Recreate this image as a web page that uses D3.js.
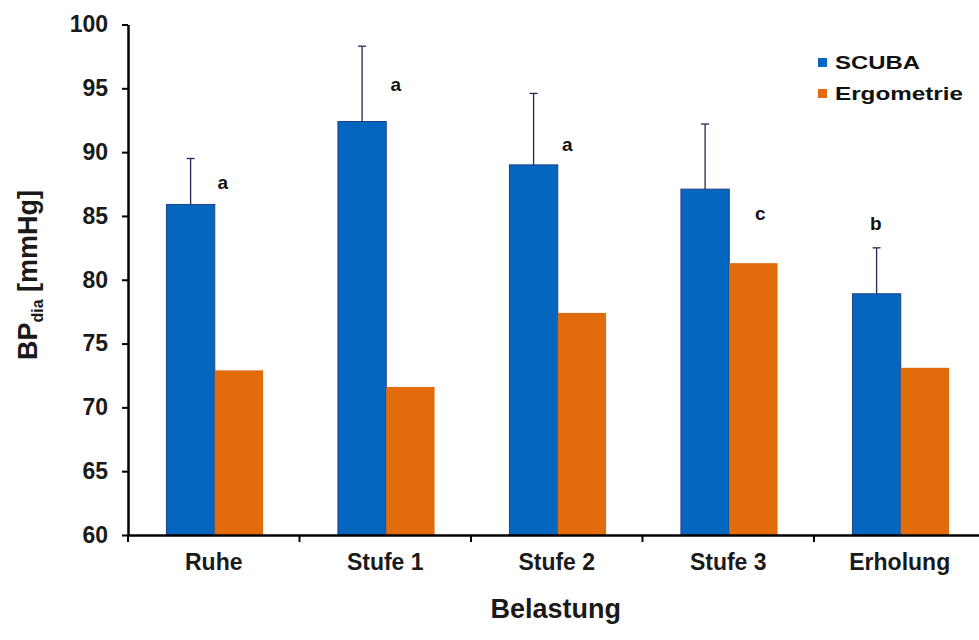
<!DOCTYPE html>
<html>
<head>
<meta charset="utf-8">
<script src="https://cdn.jsdelivr.net/npm/d3@7"></script>
<style>
  html, body { margin: 0; padding: 0; background: #fff; }
  svg { display: block; font-family: "Liberation Sans", Arial, sans-serif; }
</style>
</head>
<body>
<svg id="chart" width="979" height="640"></svg>
<script>
// ---- data ----
const categories = ["Ruhe", "Stufe 1", "Stufe 2", "Stufe 3", "Erholung"];
const seriesNames = ["SCUBA", "Ergometrie"];
const scubaValues = [85.9, 92.4, 89.0, 87.1, 78.9];
const scubaSD = [3.6, 5.9, 5.6, 5.1, 3.6];
const ergoValues = [72.9, 71.6, 77.4, 81.3, 73.1];
const yTicks = [60, 65, 70, 75, 80, 85, 90, 95, 100];
const sigLetters = ["a", "a", "a", "c", "b"];
const sigLetterY = [87.6, 95.3, 90.6, 85.2, 84.4];

// ---- layout ----
const svg = d3.select("#chart");
const colors = { SCUBA: "#0566bf", Ergometrie: "#e26b0b" };
const plotLeft = 128, plotRight = 985.5, plotTop = 24.5, plotBottom = 535;

const y = d3.scaleLinear().domain([60, 100]).range([plotBottom, plotTop]);
const x = d3.scaleBand().domain(categories).range([plotLeft, plotRight]).paddingInner(0).paddingOuter(0);
const x1 = d3.scaleBand().domain(seriesNames).range([0, x.bandwidth()]).paddingInner(0).paddingOuter(0.775);
const letterDx = [8, 9.5, 9.5, 31, -25];

const rows = categories.map((c, i) => ({ cat: c, SCUBA: scubaValues[i], Ergometrie: ergoValues[i], sd: scubaSD[i], letter: sigLetters[i], ly: sigLetterY[i], ldx: letterDx[i] }));

// bars
const g = svg.append("g");
const groups = g.selectAll("g.grp").data(rows).enter().append("g")
  .attr("transform", d => `translate(${x(d.cat) + 1},0)`);

groups.selectAll("rect").data(d => seriesNames.map(s => ({ s, v: d[s] }))).enter().append("rect")
  .attr("x", d => x1(d.s))
  .attr("width", x1.bandwidth())
  .attr("y", d => y(d.v))
  .attr("height", d => y(60) - y(d.v))
  .attr("fill", d => colors[d.s])
  .attr("stroke", d => d.s === "SCUBA" ? "#1d3f86" : "none")
  .attr("stroke-width", 1);

// error bars (SCUBA upper only)
const errColor = "#1e2a55";
groups.append("line")
  .attr("x1", x1("SCUBA") + x1.bandwidth() / 2)
  .attr("x2", x1("SCUBA") + x1.bandwidth() / 2)
  .attr("y1", d => y(d.SCUBA))
  .attr("y2", d => y(d.SCUBA + d.sd))
  .attr("stroke", errColor).attr("stroke-width", 1.3);
groups.append("line")
  .attr("x1", x1("SCUBA") + x1.bandwidth() / 2 - 4)
  .attr("x2", x1("SCUBA") + x1.bandwidth() / 2 + 4)
  .attr("y1", d => y(d.SCUBA + d.sd))
  .attr("y2", d => y(d.SCUBA + d.sd))
  .attr("stroke", errColor).attr("stroke-width", 1.3);

// significance letters
groups.append("text")
  .attr("x", d => x.bandwidth() / 2 + d.ldx)
  .attr("y", d => y(d.ly))
  .attr("dy", "0.35em")
  .attr("text-anchor", "middle")
  .attr("font-size", 19).attr("font-weight", "bold").attr("fill", "#111")
  .text(d => d.letter);

// y axis
const yAxis = svg.append("g").attr("transform", `translate(${plotLeft},0)`)
  .call(d3.axisLeft(y).tickValues(yTicks).tickSize(6).tickSizeOuter(0).tickPadding(14));
yAxis.select(".domain").attr("stroke", "#000").attr("stroke-width", 2.5);
yAxis.selectAll(".tick line").attr("stroke", "#000").attr("stroke-width", 2);
yAxis.selectAll(".tick text").attr("font-size", 23).attr("font-weight", "bold").attr("fill", "#1a1a1a")
  .attr("font-family", "Liberation Sans, Arial, sans-serif");

// x axis (labels)
const xAxis = svg.append("g").attr("transform", `translate(0,${plotBottom})`)
  .call(d3.axisBottom(x).tickSize(0).tickPadding(19).tickSizeOuter(0));
xAxis.select(".domain").attr("stroke", "#000").attr("stroke-width", 2.5);
xAxis.selectAll(".tick text").attr("font-size", 23).attr("font-weight", "bold").attr("fill", "#1a1a1a")
  .attr("font-family", "Liberation Sans, Arial, sans-serif");
// x boundary ticks
svg.append("g").selectAll("line").data(categories).enter().append("line")
  .attr("x1", d => x(d)).attr("x2", d => x(d))
  .attr("y1", plotBottom).attr("y2", plotBottom + 7)
  .attr("stroke", "#000").attr("stroke-width", 2);

// axis titles
const yt = svg.append("text")
  .attr("transform", `translate(37,275) rotate(-90)`)
  .attr("text-anchor", "middle")
  .attr("font-size", 27).attr("font-weight", "bold").attr("fill", "#1a1a1a");
yt.append("tspan").text("BP");
yt.append("tspan").attr("font-size", 16).attr("dy", 6).text("dia");
yt.append("tspan").attr("dy", -6).text(" [mmHg]");

svg.append("text")
  .attr("x", (plotLeft + plotRight) / 2 - 1)
  .attr("y", 618)
  .attr("text-anchor", "middle")
  .attr("font-size", 27).attr("font-weight", "bold").attr("fill", "#1a1a1a")
  .text("Belastung");

// legend
const legend = svg.append("g").attr("transform", "translate(818,58)");
seriesNames.forEach((s, i) => {
  const lg = legend.append("g").attr("transform", `translate(0,${i * 31})`);
  lg.append("rect").attr("x", 0).attr("y", 0).attr("width", 9).attr("height", 9).attr("fill", colors[s]);
  lg.append("text").attr("x", 17).attr("y", 4.5).attr("dy", "0.36em")
    .attr("font-size", 19).attr("font-weight", "bold").attr("fill", "#111")
    .attr("textLength", s === "SCUBA" ? 85 : 128).attr("lengthAdjust", "spacingAndGlyphs")
    .text(s);
});
</script>
</body>
</html>
